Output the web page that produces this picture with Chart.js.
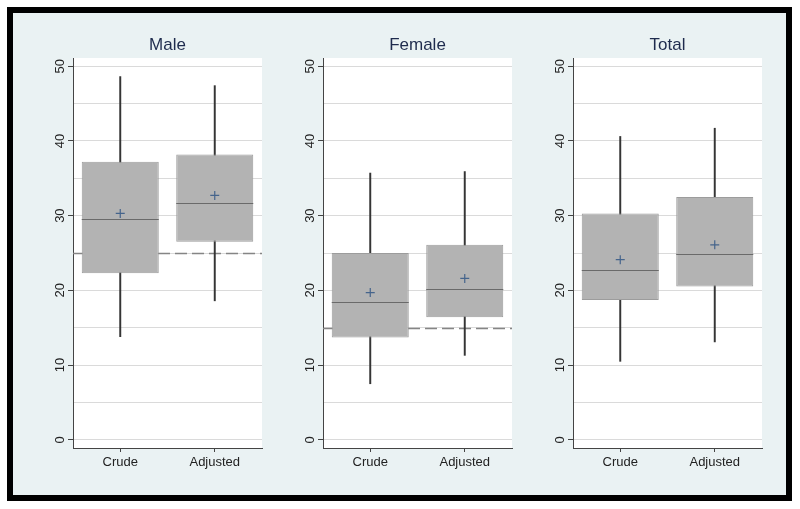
<!DOCTYPE html>
<html>
<head>
<meta charset="utf-8">
<script src="https://cdn.jsdelivr.net/npm/chart.js@4"></script>
<style>
  html, body { margin: 0; padding: 0; background: #ffffff; width: 800px; height: 509px; overflow: hidden; }
  #frame { position: absolute; left: 7px; top: 7px; width: 785px; height: 494px; box-sizing: border-box;
           border: 6px solid #000; background: #eaf2f3; }
  .pc { position: absolute; top: 0; }
</style>
</head>
<body>
<div id="frame"></div>
<canvas id="c0" class="pc"></canvas>
<canvas id="c1" class="pc"></canvas>
<canvas id="c2" class="pc"></canvas>
<script>
// ---- data ----
const groups = ['Crude', 'Adjusted'];
const panelTitles = ['Male', 'Female', 'Total'];
const whiskerLow  = [[13.8, 18.6], [7.5, 11.3], [10.5, 13.1]];
const q1          = [[22.3, 26.5], [13.7, 16.4], [18.7, 20.5]];
const median      = [[29.6, 31.7], [18.4, 20.2], [22.7, 24.8]];
const q3          = [[37.2, 38.2], [25.0, 26.1], [30.3, 32.5]];
const whiskerHigh = [[48.6, 47.4], [35.7, 35.9], [40.6, 41.7]];
const mean        = [[30.3, 32.7], [19.7, 21.6], [24.1, 26.1]];
const refLine     = [25, 15, null];
const yTicks      = [0, 5, 10, 15, 20, 25, 30, 35, 40, 45, 50];
const yMin = -1.1, yMax = 51.1;

// ---- layout ----
const plotLefts = [73, 323, 573];
const plotW = 189;
const canvasH = 509;

const plotBg = {
  id: 'plotBg',
  beforeDraw(chart) {
    const {ctx, chartArea: a} = chart;
    ctx.save();
    ctx.fillStyle = '#ffffff';
    ctx.fillRect(a.left, a.top, a.right - a.left, a.bottom - a.top);
    ctx.restore();
  }
};

const refLinePlugin = {
  id: 'refLinePlugin',
  beforeDatasetsDraw(chart, args, opts) {
    if (opts.value == null) return;
    const {ctx, chartArea: a, scales: {y}} = chart;
    const py = Math.round(y.getPixelForValue(opts.value)) + 0.5;
    ctx.save();
    ctx.strokeStyle = '#858585';
    ctx.lineWidth = 1.5;
    ctx.setLineDash([12, 5]);
    ctx.beginPath();
    ctx.moveTo(a.left, py);
    ctx.lineTo(a.right, py);
    ctx.stroke();
    ctx.restore();
  }
};

const medianPlugin = {
  id: 'medianPlugin',
  afterDatasetsDraw(chart, args, opts) {
    const {ctx, scales: {y}} = chart;
    const meta = chart.getDatasetMeta(1);
    ctx.save();
    ctx.strokeStyle = '#6a6a6a';
    ctx.lineWidth = 1;
    meta.data.forEach((bar, i) => {
      const py = Math.round(y.getPixelForValue(opts.values[i])) + 0.5;
      ctx.beginPath();
      ctx.moveTo(bar.x - bar.width / 2, py);
      ctx.lineTo(bar.x + bar.width / 2, py);
      ctx.stroke();
    });
    ctx.restore();
  }
};

const titlePlugin = {
  id: 'panelTitle',
  afterDraw(chart, args, opts) {
    const {ctx, chartArea: a} = chart;
    ctx.save();
    ctx.font = '17px "Liberation Sans", Arial, sans-serif';
    ctx.fillStyle = '#1e2b4d';
    ctx.textAlign = 'center';
    ctx.textBaseline = 'alphabetic';
    ctx.fillText(opts.text, (a.left + a.right) / 2, 50);
    ctx.restore();
  }
};

panelTitles.forEach((title, p) => {
  const cv = document.getElementById('c' + p);
  const cw = 60 + plotW + 10;
  cv.width = cw; cv.height = canvasH;
  cv.style.width = cw + 'px'; cv.style.height = canvasH + 'px';
  cv.style.left = (plotLefts[p] - 60) + 'px';

  new Chart(cv, {
    type: 'bar',
    data: {
      labels: groups,
      datasets: [
        {
          type: 'line',
          label: 'Mean',
          data: mean[p],
          showLine: false,
          pointStyle: 'cross',
          pointRadius: 4.5,
          pointBorderColor: '#45648c',
          pointBorderWidth: 1.2,
          order: 0
        },
        {
          label: 'IQR',
          data: q1[p].map((v, i) => [v, q3[p][i]]),
          backgroundColor: '#b3b3b3',
          borderColor: '#9c9c9c',
          borderWidth: 1,
          borderSkipped: false,
          grouped: false,
          categoryPercentage: 1,
          barPercentage: 0.815,
          order: 1
        },
        {
          label: 'Whisker',
          data: whiskerLow[p].map((v, i) => [v, whiskerHigh[p][i]]),
          backgroundColor: '#353535',
          borderWidth: 0,
          grouped: false,
          barThickness: 1.3,
          order: 2
        }
      ]
    },
    options: {
      responsive: false,
      animation: false,
      devicePixelRatio: 1,
      layout: { padding: { left: 30, right: 10, top: 58, bottom: 21 } },
      plugins: {
        legend: { display: false },
        tooltip: { enabled: false },
        refLinePlugin: { value: refLine[p] },
        medianPlugin: { values: median[p] },
        panelTitle: { text: title }
      },
      scales: {
        x: {
          offset: true,
          grid: { drawOnChartArea: false, drawTicks: true, tickLength: 4, tickColor: '#444', offset: false },
          border: { display: true, color: '#444', width: 1 },
          ticks: { color: '#222', font: { size: 13, family: '"Liberation Sans", Arial, sans-serif' }, padding: 3, maxRotation: 0, minRotation: 0 },
          afterFit(s) { s.height = 40; }
        },
        y: {
          min: yMin, max: yMax,
          afterBuildTicks(s) { s.ticks = yTicks.map(v => ({ value: v })); },
          grid: {
            color: '#dadada', lineWidth: 1, drawTicks: true, tickLength: 5,
            tickColor: ctx => (ctx.tick && ctx.tick.value % 10 === 0) ? '#444' : 'rgba(0,0,0,0)'
          },
          border: { display: true, color: '#444', width: 1 },
          ticks: {
            color: '#222',
            font: { size: 13, family: '"Liberation Sans", Arial, sans-serif' },
            minRotation: 90, maxRotation: 90,
            crossAlign: 'center',
            padding: 0,
            callback: v => (v % 10 === 0 ? String(v) : '')
          },
          afterFit(s) { s.width = 30; }
        }
      }
    },
    plugins: [plotBg, refLinePlugin, medianPlugin, titlePlugin]
  });
});
</script>
</body>
</html>
